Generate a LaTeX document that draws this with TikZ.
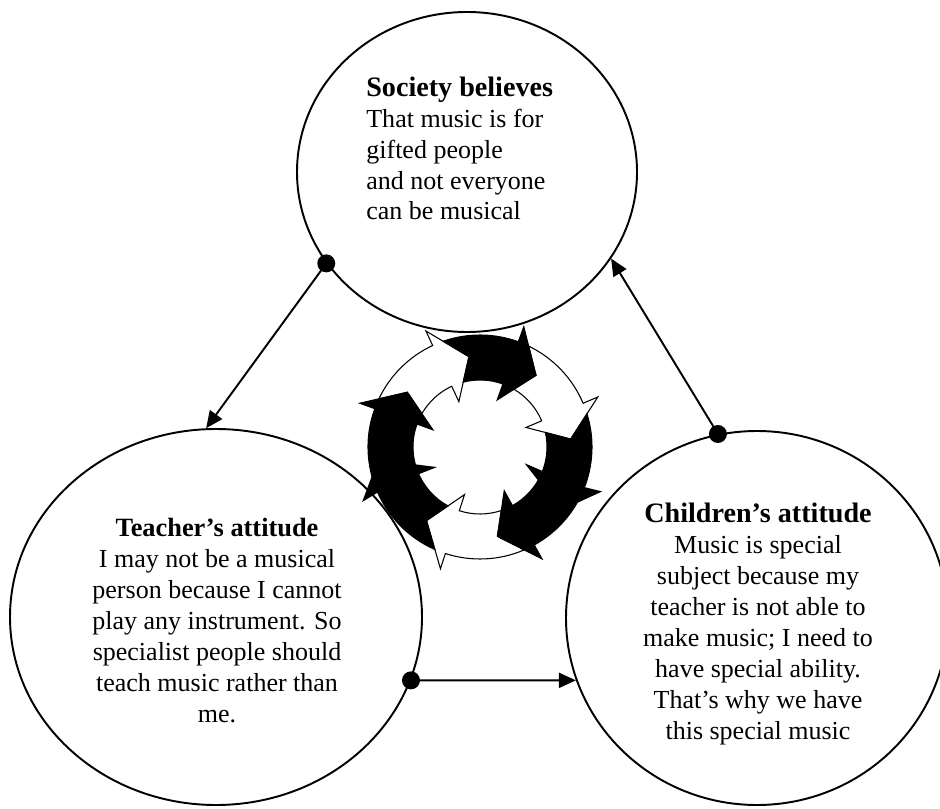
\documentclass[tikz,border=0pt]{standalone}
\usepackage{fontspec}
\setmainfont{Liberation Serif}
\usetikzlibrary{arrows.meta, shapes.geometric}

\begin{document}
\begin{tikzpicture}[
    every node/.style={font=\fontsize{14.8}{17.6}\selectfont},
    belief/.style={ellipse, draw, line width=1.1pt, inner sep=0pt},
    linktext/.style={inner sep=0pt},
    link/.style={line width=1.1pt, -{Triangle[length=0.34cm, width=0.3cm]}},
    whitearrow/.style={fill=white, draw=black, line width=0.6pt},
    blackarrow/.style={fill=black, draw=black, line width=0.6pt},
]

\def\ri{1.34}   % ring, inner radius
\def\ro{2.24}   % ring, outer radius
\def\rb{1.00}   % head, inner barb
\def\rB{2.56}   % head, outer barb
\def\rt{1.82}   % head, tip

% ================================================================
% Three beliefs feeding each other round a cycle.
%
%   society   ellipse, centre (9.34,12.72)   6.80 x 6.40
%   teacher   ellipse, centre (4.32, 3.82)   8.24 x 7.52
%   children  ellipse, centre (15.14,3.80)   7.64 x 7.48
%   cycle     ring of six arrows, centre (9.6,7.22)
%
% Text blocks are placed by the baseline of their last line.
% Every arrow of the ring runs clockwise: its tail is cut so that
% the head of the arrow before it nests in it.
% ================================================================

\newcommand{\cyclearrow}[5]{% #1 style, #2/#3 head before (base/tip), #4/#5 own head (base/tip)
  \pgfmathsetmacro{\tailo}{#2+0.32*(#3-#2)}
  \pgfmathsetmacro{\taili}{#2+0.58*(#3-#2)}
  \draw[#1] (\tailo:\ro) arc[start angle=\tailo, end angle=#4, radius=\ro]
      -- (#4:\rB) -- (#5:\rt) -- (#4:\rb) -- (#4:\ri)
      arc[start angle=#4, end angle=\taili, radius=\ri] -- (#3:\rt) -- cycle;
}

\useasboundingbox (0,0) rectangle (18.8,16.16);

% ---------------------------------------------------------------- the three beliefs
\node[belief, minimum width=6.8cm, minimum height=6.4cm] (society) at (9.34,12.72) {};
\node[belief, minimum width=8.24cm, minimum height=7.52cm] (teacher) at (4.32,3.82) {};
\node[belief, minimum width=7.64cm, minimum height=7.48cm] (children) at (15.14,3.8) {};

\node[linktext, anchor=base west, align=left] (societytext) at (7.32,11.76)
    {{\fontsize{16}{17.6}\selectfont\bfseries Society believes}\\
     That music is for\\ gifted people\\ and not everyone\\ can be musical};

\node[linktext, anchor=base, align=center] (teachertext) at (4.34,1.72)
    {{\fontsize{15}{17.6}\selectfont\bfseries Teacher's attitude}\\
     I may not be a musical\\ person because I cannot\\ play any instrument. So\\
     specialist people should\\ teach music rather than\\ me.};

\node[linktext, anchor=base, align=center] (childrentext) at (15.16,1.38)
    {{\fontsize{16}{17.6}\selectfont\bfseries Children's attitude}\\
     Music is special\\ subject because my\\ teacher is not able to\\
     make music; I need to\\ have special ability.\\ That's why we have\\
     this special music};

% ---------------------------------------------------------------- the cycle
\begin{scope}[shift={(9.6,7.22)}]
  \foreach \sty/\ta/\tb/\ha/\hb in {whitearrow/160/143/115/97,
                                    whitearrow/70/52/23/5,
                                    whitearrow/-61/-79/-108/-126,
                                    blackarrow/252/234/160/143,
                                    blackarrow/115/97/70/52,
                                    blackarrow/23/5/-61/-79} {
    \cyclearrow{\sty}{\ta}{\tb}{\ha}{\hb}
  }
  % spikes on the two lower black arrows
  \foreach \a in {204, -21} {
    \fill ({\a-9}:\ri) -- ({\a+1}:0.95) -- (\a:\ri) -- cycle;
    \fill ({\a-9}:\ro) -- ({\a+1}:2.6) -- (\a:\ro) -- cycle;
  }
\end{scope}

% ---------------------------------------------------------------- links
\fill (society.213) circle (0.18);
\draw[link] (society.213) -- (teacher.93);

\fill (teacher.342) circle (0.18);
\draw[link] (teacher.342) -- (children.199);

\fill (children.102) circle (0.18);
\draw[link] (children.102) -- (society.329);

\end{tikzpicture}
\end{document}
